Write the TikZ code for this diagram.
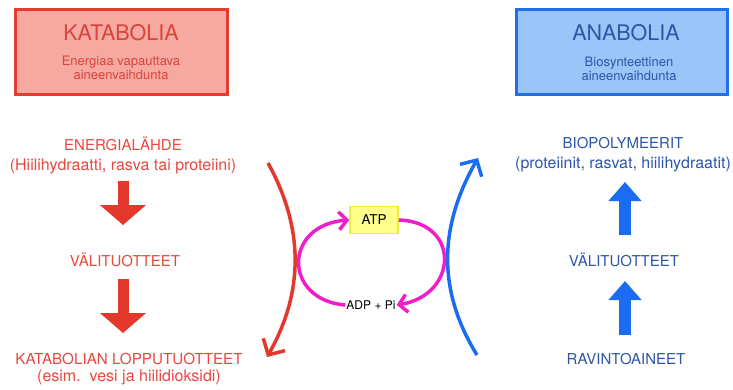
\documentclass[tikz,border=0pt]{standalone}
\usepackage{fontspec}
\setmainfont{TeX Gyre Heros}
\usetikzlibrary{arrows.meta}

\definecolor{katfill}{HTML}{F5A9A1}
\definecolor{katline}{HTML}{E63B2E}
\definecolor{kattext}{HTML}{D8453D}
\definecolor{redtext}{HTML}{E8473D}
\definecolor{redarrow}{HTML}{E3382B}
\definecolor{anafill}{HTML}{9AC5F8}
\definecolor{analine}{HTML}{2170E6}
\definecolor{bluetext}{HTML}{2D56A8}
\definecolor{bluearrow}{HTML}{1A6DF2}
\definecolor{cycle}{HTML}{EE1FCB}
\definecolor{atpfill}{HTML}{FFFF8C}
\definecolor{atpline}{HTML}{EFEF3A}

\tikzset{
  headbox/.style={draw, line width=3pt, minimum width=#1, minimum height=85pt, inner sep=0pt},
  title/.style={font=\fontsize{21.5}{23}\selectfont},
  subtitle/.style={font=\fontsize{13}{14.5}\selectfont, align=center},
  label/.style={font=\fontsize{15}{20}\selectfont, align=center, inner sep=0pt},
  redlabel/.style={label, text=redtext},
  bluelabel/.style={label, text=bluetext},
  redblock/.style={redarrow, line width=11pt, -{Triangle[width=45pt,length=20pt]}},
  blueblock/.style={bluearrow, line width=12pt, -{Triangle[width=32pt,length=19pt]}},
  bigcurve/.style={line width=3.5pt, -{Straight Barb[length=12pt,width=25pt,line width=3.5pt]}},
  smallcurve/.style={cycle, line width=3.5pt, -{Straight Barb[length=8pt,width=18pt,line width=3.5pt]}}
}
\newcommand{\sublinefont}{\fontsize{16}{18}\selectfont}

\begin{document}
\begin{tikzpicture}[x=1pt, y=-1pt]
\useasboundingbox (0,0) rectangle (733,389);

% header boxes
\node[headbox=212pt, fill=katfill, draw=katline] (katbox) at (121,52) {};
\node[title, text=kattext] (kattitle) at (121,33) {KATABOLIA};
\node[subtitle, text=kattext] (katsub) at (121,68) {Energiaa vapauttava\\aineenvaihdunta};

\node[headbox=211pt, fill=anafill, draw=analine] (anabox) at (622,52) {};
\node[title, text=bluetext] (anatitle) at (626,33) {ANABOLIA};
\node[subtitle, text=bluetext] (anasub) at (629,69) {Biosynteettinen\\aineenvaihdunta};

% catabolic chain
\node[redlabel] (ener) at (123,155) {ENERGIALÄHDE\\{\sublinefont(Hiilihydraatti, rasva tai proteiini)}};
\node[redlabel] (vali1) at (125,260) {VÄLITUOTTEET};
\node[redlabel, font=\fontsize{15.2}{17}\selectfont] (loppu) at (129,369) {KATABOLIAN LOPPUTUOTTEET\\{\sublinefont(esim.\ \ vesi ja hiilidioksidi)}};
\draw[redblock, shorten <=9pt, shorten >=12pt] (123,172) -- (123,237);
\draw[redblock] (123,279) -- (123,333);

% anabolic chain
\node[bluelabel] (bio) at (623,155) {BIOPOLYMEERIT\\{\sublinefont(proteiinit, rasvat, hiilihydraatit)}};
\node[bluelabel] (vali2) at (624,260) {VÄLITUOTTEET};
\node[bluelabel] (ravi) at (626,359) {RAVINTOAINEET};
\draw[blueblock] (625,235) -- (625,182);
\draw[blueblock] (625,335) -- (625,281);

% energy coupling
\node[draw=atpline, fill=atpfill, line width=1.5pt, minimum width=48pt, minimum height=27pt, inner sep=0pt,
      font=\fontsize{13.5}{15}\selectfont] (atp) at (374,220) {ATP};
\node[font=\fontsize{12}{14}\selectfont, inner sep=1pt] (adp) at (371,305) {ADP + Pi};

\coordinate (katin) at (268,163);
\coordinate (katout) at (267,357);
\coordinate (anain) at (477,355);
\coordinate (anaout) at (478,158);
\draw[bigcurve, redarrow] (katin) .. controls (304,228) and (304,292) .. (katout);
\draw[bigcurve, bluearrow] (anain) .. controls (438,292) and (438,228) .. (anaout);

\draw[smallcurve] (adp.west) .. controls (283,300) and (283,225) .. (atp.west);
\draw[smallcurve] (atp.east) .. controls (461,222) and (458,295) .. (adp.east);
\end{tikzpicture}
\end{document}
